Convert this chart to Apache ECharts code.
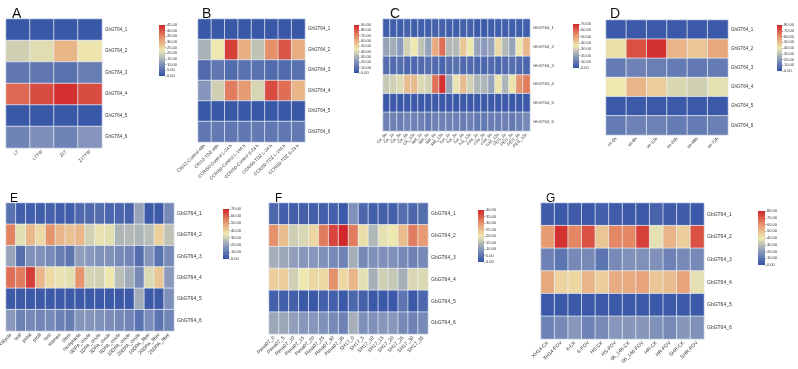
<!DOCTYPE html>
<html>
<head>
<meta charset="utf-8">
<script src="https://cdn.jsdelivr.net/npm/echarts@6/dist/echarts.min.js"></script>
<style>
  html, body { margin: 0; padding: 0; background: #fff; }
  #chart { width: 798px; height: 369px; }
</style>
</head>
<body>
<div id="chart"></div>
<script>
// gene rows
var genesGh = ['GhGT64_1', 'GhGT64_2', 'GhGT64_3', 'GhGT64_4', 'GhGT64_5', 'GhGT64_6'];
var genesGb = ['GbGT64_1', 'GbGT64_2', 'GbGT64_3', 'GbGT64_4', 'GbGT64_5', 'GbGT64_6'];

// A
var colsA = ['L7', 'L7YW', 'Z17', 'Z17YW'];
var valsA = [
  [1, 1, 1, 1],
  [19, 21, 29, 23],
  [6, 6, 5, 7],
  [38, 41, 44, 41],
  [1, 1, 1, 1],
  [8, 10, 8, 11]
];
var ticksA = [0, 5, 10, 15, 20, 25, 30, 35, 40, 45];

// B
var colsB = ['CRI12-Control-48h', 'CRI12-TDZ-48h', 'CCRI50-Control L-24 h', 'CCRI50-Control L-144 h',
  'CCRI50-Control S-24 h', 'CCRI50-TDZ L-24 h', 'CCRI50-TDZ L-144 h', 'CCRI50-TDZ S-24 h'];
var valsB = [
  [2, 2, 2, 2, 2, 2, 2, 2],
  [30, 45, 85, 60, 35, 68, 80, 60],
  [8, 12, 8, 10, 10, 8, 8, 10],
  [22, 38, 72, 65, 40, 82, 75, 58],
  [2, 2, 2, 2, 2, 2, 2, 2],
  [12, 13, 12, 12, 13, 12, 12, 13]
];
var ticksB = [0, 10, 20, 30, 40, 50, 60, 70, 80, 90];

// C
var colsC = ['CK_0h', 'CK_1h', 'CK_3h', 'CK_6h', 'CK_12h', 'salt_1h', 'salt_3h', 'salt_6h', 'salt_12h',
  'hot_1h', 'hot_3h', 'hot_6h', 'hot_12h', 'cold_1h', 'cold_3h', 'cold_6h', 'cold_12h',
  'PEG_1h', 'PEG_3h', 'PEG_6h', 'PEG_12h'];
var valsC = [
  [3, 3, 3, 4, 3, 3, 3, 4, 4, 3, 3, 4, 4, 2, 2, 3, 3, 3, 3, 3, 3],
  [20, 22, 18, 30, 35, 27, 20, 48, 58, 25, 25, 42, 35, 20, 18, 20, 38, 25, 20, 35, 45],
  [7, 6, 7, 5, 5, 6, 7, 6, 5, 7, 8, 6, 6, 5, 5, 6, 5, 6, 7, 6, 5],
  [28, 30, 32, 44, 44, 32, 30, 58, 68, 20, 34, 44, 30, 24, 24, 20, 36, 24, 36, 52, 56],
  [2, 2, 2, 2, 2, 2, 2, 2, 2, 2, 2, 2, 2, 2, 2, 2, 2, 2, 2, 2, 2],
  [12, 12, 11, 13, 12, 12, 10, 12, 12, 12, 12, 11, 12, 10, 10, 11, 11, 12, 10, 12, 14]
];
var ticksC = [0, 10, 20, 30, 40, 50, 60, 70];

// D
var colsD = ['ck-0h', 've-6h', 've-12h', 've-24h', 've-48h', 've-72h'];
var valsD = [
  [2, 2, 2, 2, 2, 2],
  [42, 72, 78, 52, 48, 55],
  [12, 14, 13, 12, 11, 12],
  [40, 52, 46, 36, 34, 38],
  [2, 2, 2, 2, 2, 2],
  [12, 14, 14, 12, 12, 13]
];
var ticksD = [0, 10, 20, 30, 40, 50, 60, 70, 80];

// E
var colsE = ['calycle', 'leaf', 'petal', 'pistil', 'root', 'stamen', 'stem', 'receptacle',
  '0DPA_ovule', '1DPA_ovule', '3DPA_ovule', '5DPA_ovule', '10DPA_ovule', '20DPA_ovule',
  '10DPA_fiber', '20DPA_fiber', '25DPA_fiber'];
var valsE = [
  [8, 3, 3, 3, 4, 3, 3, 6, 6, 7, 5, 5, 4, 20, 2, 2, 14],
  [55, 33, 45, 38, 52, 45, 43, 45, 30, 34, 33, 24, 25, 24, 26, 40, 27],
  [20, 7, 16, 16, 14, 11, 9, 19, 18, 16, 16, 14, 13, 7, 17, 8, 14],
  [58, 56, 66, 45, 38, 34, 33, 52, 31, 30, 35, 26, 22, 14, 32, 42, 18],
  [2, 2, 2, 2, 2, 2, 2, 2, 2, 2, 2, 2, 2, 22, 2, 2, 16],
  [18, 12, 14, 13, 14, 12, 11, 17, 17, 16, 15, 14, 13, 8, 15, 9, 13]
];
var ticksE = [0, 10, 20, 30, 40, 50, 60, 70];

// F
var colsF = ['Pima07_0', 'Pima07_5', 'Pima07_10', 'Pima07_15', 'Pima07_20', 'Pima07_25', 'Pima07_30', 'Pima07_35',
  'SH17_0', 'SH17_5', 'SH17_10', 'SH17_15', 'SH17_20', 'SH17_25', 'SH17_30', 'SH17_35'];
var valsF = [
  [3, 2, 2, 2, 2, 2, 2, 1, 9, 3, 2, 2, 2, 4, 3, 4],
  [30, 25, 17, 18, 22, 32, 37, 40, 32, 21, 14, 19, 20, 25, 32, 29],
  [13, 12, 11, 10, 10, 9, 8, 7, 13, 8, 9, 9, 9, 8, 7, 8],
  [23, 23, 17, 20, 22, 22, 30, 22, 26, 19, 13, 17, 16, 13, 18, 18],
  [2, 2, 2, 1, 1, 2, 2, 1, 3, 2, 1, 1, 1, 5, 1, 3],
  [12, 12, 11, 10, 10, 9, 8, 7, 13, 9, 9, 10, 10, 8, 7, 8]
];
var ticksF = [0, 5, 10, 15, 20, 25, 30, 35, 40];

// G
var colsG = ['XH14-CK', 'XH14-FOV', '6-CK', '6-FOV', 'HS-CK', 'HS-FOV', '06_146-CK', '06_146-FOV',
  'HR-CK', 'HR-FOV', 'SHR-CK', 'SHR-FOV'];
var valsG = [
  [3, 2, 3, 2, 4, 3, 2, 2, 5, 3, 3, 2],
  [58, 78, 62, 72, 48, 62, 62, 75, 38, 52, 46, 72],
  [14, 10, 16, 16, 10, 16, 18, 18, 18, 14, 16, 16],
  [55, 45, 44, 52, 46, 54, 54, 56, 48, 50, 56, 38],
  [2, 2, 2, 2, 2, 2, 2, 2, 2, 2, 2, 2],
  [14, 16, 20, 14, 16, 20, 20, 20, 18, 16, 20, 18]
];
var ticksG = [0, 10, 20, 30, 40, 50, 60, 70, 80];

// colour ramp blue -> pale yellow -> red
var ramp = ['#3352a6', '#8797bb', '#eee8b0', '#e5926b', '#d2262a'];
var FONT = 'Liberation Sans, Arial, sans-serif';

// layout: g = heatmap grid [left, top, w, h], cb = colour bar, t = letter
var panels = [
  { id: 'A', cols: colsA, rows: genesGh, vals: valsA, ticks: ticksA, g: [6, 19, 96, 129], cb: [159, 25, 6, 51], t: [7, 2], fs: 14, lf: 4.5 },
  { id: 'B', cols: colsB, rows: genesGh, vals: valsB, ticks: ticksB, g: [198, 19, 107, 123], cb: [354, 25, 5, 48], t: [197, 2], fs: 14, lf: 4.5 },
  { id: 'C', cols: colsC, rows: genesGh, vals: valsC, ticks: ticksC, g: [383, 19, 147, 112], cb: [573, 24, 6, 44], t: [385, 2], fs: 14, lf: 4.2 },
  { id: 'D', cols: colsD, rows: genesGh, vals: valsD, ticks: ticksD, g: [606, 20, 122, 115], cb: [777, 25, 5, 46], t: [605, 2], fs: 14, lf: 4.5 },
  { id: 'E', cols: colsE, rows: genesGb, vals: valsE, ticks: ticksE, g: [6, 203, 168, 128], cb: [223, 209, 6, 50], t: [5, 188], fs: 12, lf: 5 },
  { id: 'F', cols: colsF, rows: genesGb, vals: valsF, ticks: ticksF, g: [269, 203, 159, 131], cb: [478, 210, 6, 52], t: [270, 188], fs: 12, lf: 5 },
  { id: 'G', cols: colsG, rows: genesGb, vals: valsG, ticks: ticksG, g: [541, 203, 163, 136], cb: [758, 211, 7, 54], t: [541, 188], fs: 12, lf: 5 }
];

var chart = echarts.init(document.getElementById('chart'));
var n = panels.length;
var grid = [], xAxis = [], yAxis = [], series = [], visualMap = [], title = [];

panels.forEach(function (p, i) {
  var max = p.ticks[p.ticks.length - 1];
  grid.push({ left: p.g[0], top: p.g[1], width: p.g[2], height: p.g[3], outerBoundsMode: 'none' });
  xAxis.push({
    type: 'category', gridIndex: i, data: p.cols,
    axisLine: { show: false }, axisTick: { show: false }, splitLine: { show: false },
    axisLabel: { rotate: 45, interval: 0, fontSize: p.lf, margin: 3, color: '#333', fontFamily: FONT }
  });
  yAxis.push({
    type: 'category', gridIndex: i, data: p.rows, inverse: true, position: 'right',
    axisLine: { show: false }, axisTick: { show: false }, splitLine: { show: false },
    axisLabel: { fontSize: p.lf, margin: 3, color: '#333', fontFamily: FONT }
  });
  var data = [];
  p.vals.forEach(function (row, r) {
    row.forEach(function (v, c) { data.push([c, r, v]); });
  });
  series.push({
    type: 'heatmap', xAxisIndex: i, yAxisIndex: i, data: data,
    itemStyle: { borderColor: 'rgba(236,239,246,0.9)', borderWidth: 0.8 },
    emphasis: { disabled: true }
  });
  visualMap.push({
    type: 'continuous', show: false, seriesIndex: i, min: 0, max: max,
    inRange: { color: ramp }
  });
  title.push({
    text: p.id, left: p.t[0], top: p.t[1],
    textStyle: { fontSize: p.fs, fontWeight: 'normal', color: '#111', fontFamily: FONT }
  });
});

// colour bars
panels.forEach(function (p, i) {
  var k = n + i;
  var max = p.ticks[p.ticks.length - 1];
  grid.push({ left: p.cb[0], top: p.cb[1], width: p.cb[2], height: p.cb[3], outerBoundsMode: 'none' });
  xAxis.push({ type: 'category', gridIndex: k, data: [''], show: false });
  yAxis.push({
    type: 'value', gridIndex: k, min: p.ticks[0], max: max, interval: p.ticks[1] - p.ticks[0],
    position: 'right',
    axisLine: { show: false }, splitLine: { show: false },
    axisTick: { show: true, length: 1.5, lineStyle: { color: '#666', width: 0.5 } },
    axisLabel: {
      fontSize: 4, margin: 2, color: '#333', fontFamily: FONT,
      formatter: function (v) { return v.toFixed(2); }
    }
  });
  series.push({
    type: 'bar', xAxisIndex: k, yAxisIndex: k, data: [max], barWidth: '100%', silent: true,
    itemStyle: {
      color: new echarts.graphic.LinearGradient(0, 0, 0, 1, ramp.slice().reverse().map(function (c, j) {
        return { offset: j / (ramp.length - 1), color: c };
      }))
    }
  });
});

chart.setOption({
  animation: false,
  backgroundColor: '#fff',
  title: title,
  grid: grid,
  xAxis: xAxis,
  yAxis: yAxis,
  visualMap: visualMap,
  series: series
});
</script>
</body>
</html>
